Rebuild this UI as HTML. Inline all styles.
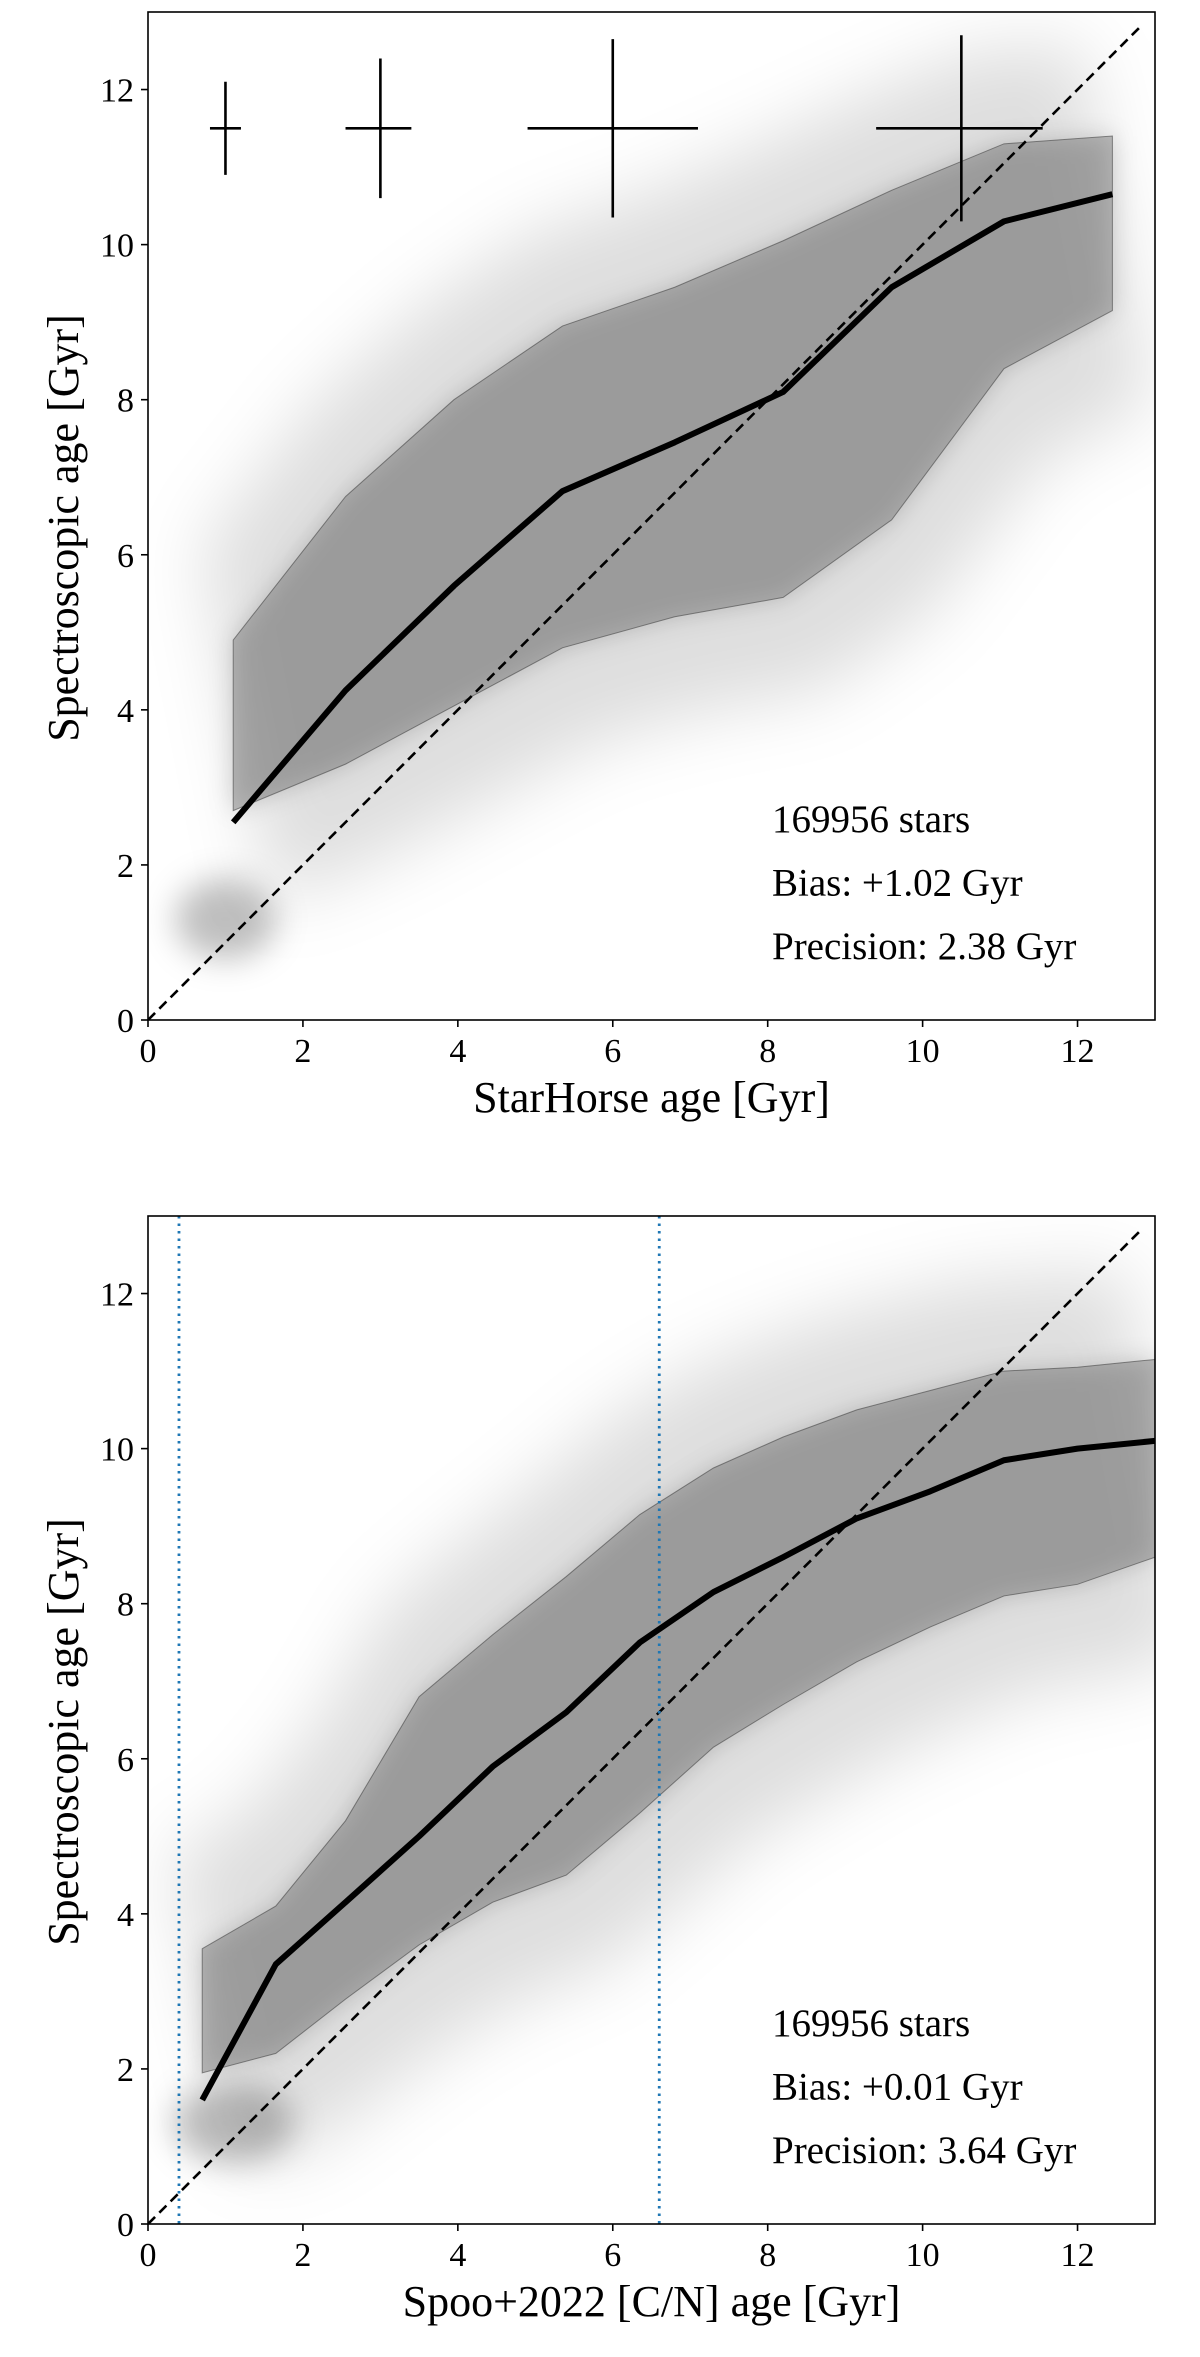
<!DOCTYPE html>
<html><head><meta charset="utf-8"><style>
html,body{margin:0;padding:0;background:#fff;}
svg{display:block;font-family:"Liberation Serif",serif;}
</style></head><body>
<svg id="fig" width="1200" height="2357" viewBox="0 0 1200 2357" xmlns="http://www.w3.org/2000/svg">
<defs>
<filter id="blur1" x="-20%" y="-20%" width="140%" height="140%"><feGaussianBlur stdDeviation="35"/></filter>
<filter id="blur2" x="-20%" y="-20%" width="140%" height="140%"><feGaussianBlur stdDeviation="12"/></filter>
<filter id="blur3" x="-50%" y="-50%" width="200%" height="200%"><feGaussianBlur stdDeviation="16"/></filter>
</defs>
</svg>
<script>
// ---- Panel 1 data (StarHorse) ----
const p1X = [1.1, 2.55, 3.95, 5.35, 6.8, 8.2, 9.6, 11.05, 12.45];
const p1Median = [2.55, 4.25, 5.6, 6.82, 7.45, 8.1, 9.45, 10.3, 10.65];
const p1Upper = [4.9, 6.75, 8.0, 8.95, 9.45, 10.05, 10.7, 11.3, 11.4];
const p1Lower = [2.7, 3.3, 4.05, 4.8, 5.2, 5.45, 6.45, 8.4, 9.15];
const errX = [1, 3, 6, 10.5];
const errY = [11.5, 11.5, 11.5, 11.5];
const errXLo = [0.8, 2.55, 4.9, 9.4];
const errXHi = [1.2, 3.4, 7.1, 11.55];
const errYLo = [10.9, 10.6, 10.35, 10.3];
const errYHi = [12.1, 12.4, 12.65, 12.7];
const p1Stats = ["169956 stars", "Bias: +1.02 Gyr", "Precision: 2.38 Gyr"];
// ---- Panel 2 data (Spoo+2022) ----
const p2X = [0.7, 1.65, 2.55, 3.5, 4.45, 5.4, 6.35, 7.3, 8.2, 9.15, 10.1, 11.05, 12, 13];
const p2Median = [1.6, 3.35, 4.15, 5.0, 5.9, 6.6, 7.5, 8.15, 8.6, 9.1, 9.45, 9.85, 10.0, 10.1];
const p2Upper = [3.55, 4.1, 5.2, 6.8, 7.6, 8.35, 9.15, 9.75, 10.15, 10.5, 10.75, 11.0, 11.05, 11.15];
const p2Lower = [1.95, 2.2, 2.9, 3.6, 4.15, 4.5, 5.3, 6.15, 6.7, 7.25, 7.7, 8.1, 8.25, 8.6];
const p2VLines = [0.4, 6.6];
const p2Stats = ["169956 stars", "Bias: +0.01 Gyr", "Precision: 3.64 Gyr"];
const ticks = [0, 2, 4, 6, 8, 10, 12];
const tickLabels = ["0", "2", "4", "6", "8", "10", "12"];

const NS = "http://www.w3.org/2000/svg";
const svg = document.getElementById('fig');
function mk(tag, attrs, parent) {
  const e = document.createElementNS(NS, tag);
  for (const k in attrs) e.setAttribute(k, attrs[k]);
  (parent || svg).appendChild(e);
  return e;
}
const L = 148, R = 1155, W = R - L, H = 1008, DMAX = 13;

function panel(top, X, med, up, lo, xlabel, stats, opts) {
  const g = mk('g', {});
  
  
  const B = top + H;
  const sx = v => L + v / DMAX * W;
  const sy = v => B - v / DMAX * H;
  const clipId = 'clip' + top;
  const cp = mk('clipPath', {id: clipId}, g);
  mk('rect', {x: L, y: top, width: W, height: H}, cp);
  const plot = mk('g', {'clip-path': 'url(#' + clipId + ')'}, g);
  const bandPts = X.map((x, i) => sx(x) + ',' + sy(up[i])).concat(X.map((x, i) => [x, lo[i]]).reverse().map(p => sx(p[0]) + ',' + sy(p[1]))).join(' ');
  const hazePts = X.map((x, i) => sx(x - 0.4) + ',' + sy(up[i] + 1.2)).concat(X.map((x, i) => [x, lo[i]]).reverse().map(p => sx(p[0] + 0.5) + ',' + sy(p[1] - 1.2))).join(' ');
  const haze = mk('polygon', {points: hazePts, fill: '#000', 'fill-opacity': 0.13, filter: 'url(#blur1)'}, plot);
  
  
  const core = mk('polygon', {points: bandPts, fill: '#000', 'fill-opacity': 0.18, filter: 'url(#blur2)'}, plot);
  
  
  const blob = mk('ellipse', {cx: sx(opts.blobX), cy: sy(1.3), rx: opts.blobRx, ry: 40, fill: '#000', 'fill-opacity': 0.25, filter: 'url(#blur3)'}, plot);
  
  
  const band = mk('polygon', {points: bandPts, fill: '#808080', 'fill-opacity': 0.5, stroke: '#444', 'stroke-width': 1, 'stroke-opacity': 0.6}, plot);
  
  
  const d = mk('line', {x1: sx(0), y1: sy(0), x2: sx(12.8), y2: sy(12.8), stroke: '#000', 'stroke-width': 2.6, 'stroke-dasharray': '10,6'}, plot);
  
  
  if (opts.vlines) opts.vlines.forEach(v => {
    const vl = mk('line', {x1: sx(v), y1: top, x2: sx(v), y2: B, stroke: '#1f77b4', 'stroke-width': 2.8, 'stroke-dasharray': '2.5,5'}, plot);
    
    
  });
  const ml = mk('polyline', {points: X.map((x, i) => sx(x) + ',' + sy(med[i])).join(' '), fill: 'none', stroke: '#000', 'stroke-width': 6, 'stroke-linejoin': 'round'}, plot);
  
  
  if (opts.err) errX.forEach((x, i) => {
    const h = mk('line', {x1: sx(errXLo[i]), y1: sy(errY[i]), x2: sx(errXHi[i]), y2: sy(errY[i]), stroke: '#000', 'stroke-width': 2.6}, plot);
    
    
    const v = mk('line', {x1: sx(x), y1: sy(errYLo[i]), x2: sx(x), y2: sy(errYHi[i]), stroke: '#000', 'stroke-width': 2.6}, plot);
    
    
  });
  const fr = mk('rect', {x: L, y: top, width: W, height: H, fill: 'none', stroke: '#000', 'stroke-width': 1.6}, g);
  
  
  ticks.forEach((t, i) => {
    mk('line', {x1: sx(t), y1: B, x2: sx(t), y2: B + 7, stroke: '#000', 'stroke-width': 1.6}, g);
    const xt = mk('text', {x: sx(t), y: B + 42, 'font-size': 34, 'text-anchor': 'middle', fill: '#000'}, g);
    xt.textContent = tickLabels[i];
    
    
    mk('line', {x1: L - 7, y1: sy(t), x2: L, y2: sy(t), stroke: '#000', 'stroke-width': 1.6}, g);
    const yt = mk('text', {x: L - 14, y: sy(t) + 12, 'font-size': 34, 'text-anchor': 'end', fill: '#000'}, g);
    yt.textContent = tickLabels[i];
    
    
  });
  const xl = mk('text', {x: (L + R) / 2, y: B + 92, 'font-size': 44, 'text-anchor': 'middle', fill: '#000'}, g);
  xl.textContent = xlabel;
  
  
  const yl = mk('text', {x: 0, y: 0, 'font-size': 44, 'text-anchor': 'middle', fill: '#000', transform: 'translate(78,' + (top + 516) + ') rotate(-90)'}, g);
  yl.textContent = 'Spectroscopic age [Gyr]';
  
  
  stats.forEach((s, i) => {
    const st = mk('text', {x: 772, y: top + 820 + i * 63.5, 'font-size': 39, fill: '#000'}, g);
    st.textContent = s;
    
    
  });
}
panel(12, p1X, p1Median, p1Upper, p1Lower, 'StarHorse age [Gyr]', p1Stats, {name: 'starhorse-panel', err: true, blobX: 1.0, blobRx: 50});
panel(1216, p2X, p2Median, p2Upper, p2Lower, 'Spoo+2022 [C/N] age [Gyr]', p2Stats, {name: 'spoo-panel', vlines: p2VLines, blobX: 1.1, blobRx: 60});
</script>
</body></html>
